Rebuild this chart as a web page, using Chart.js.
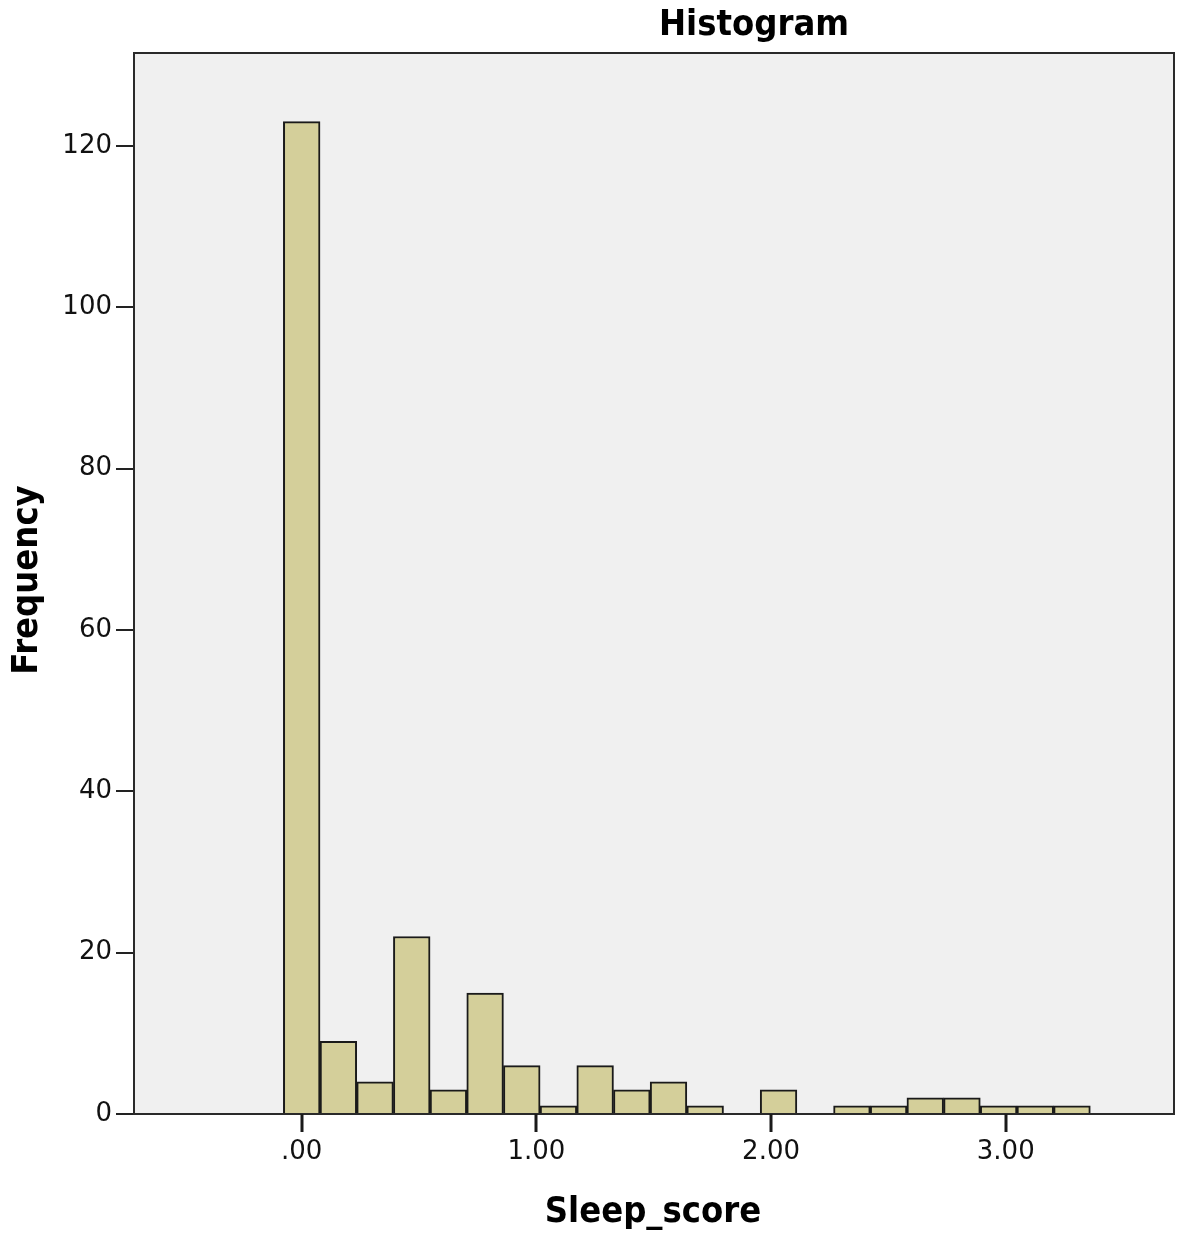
<!DOCTYPE html>
<html>
<head>
<meta charset="utf-8">
<script src="https://cdn.jsdelivr.net/npm/chart.js@4.4.0/dist/chart.umd.min.js"></script>
<style>
  html, body { margin: 0; padding: 0; background: #ffffff; }
  #wrap { width: 1180px; height: 1234px; position: relative; }
</style>
</head>
<body>
<div id="wrap"><canvas id="histChart"></canvas></div>
<script>
// --- дані гістограми ---
const binWidth = 0.1563;
const frequencies = [123, 9, 4, 22, 3, 15, 6, 1, 6, 3, 4, 1, 0, 3, 0, 1, 1, 2, 2, 1, 1, 1];
const xTickValues = [0, 1, 2, 3];
const xTickLabels = ['.00', '1.00', '2.00', '3.00'];
const yTickValues = [0, 20, 40, 60, 80, 100, 120];

const chartTitle = 'Histogram';
const xTitle = 'Sleep_score';
const yTitle = 'Frequency';

const points = frequencies.map((f, i) => ({ x: i * binWidth, y: f }));

const boldFont = 'bold 36px "DejaVu Sans Condensed", "DejaVu Sans", sans-serif';
const tickLen = 18;

// фон і рамка області графіка + підписи
const framePlugin = {
    id: 'frame',
    beforeDatasetsDraw(chart) {
        const { ctx, chartArea: a } = chart;
        ctx.save();
        ctx.fillStyle = '#f0f0f0';
        ctx.fillRect(a.left, a.top, a.right - a.left, a.bottom - a.top);
        ctx.restore();
    },
    afterDatasetsDraw(chart) {
        const { ctx, chartArea: a } = chart;
        ctx.save();
        ctx.strokeStyle = '#2a2a2a';
        ctx.lineWidth = 2;
        ctx.strokeRect(a.left, a.top, a.right - a.left, a.bottom - a.top);
        ctx.restore();
    },
    afterDraw(chart) {
        const { ctx, chartArea: a } = chart;
        ctx.save();
        // засічки осі X
        const xs = chart.scales.x;
        ctx.strokeStyle = '#1a1a1a';
        ctx.lineWidth = 3;
        xTickValues.forEach(v => {
            const px = Math.round(xs.getPixelForValue(v));
            ctx.fillStyle = '#1a1a1a';
            ctx.fillRect(px - 1.5, a.bottom, 3, tickLen);
        });
        ctx.fillStyle = '#000';
        ctx.font = boldFont;
        ctx.textAlign = 'center';
        ctx.textBaseline = 'alphabetic';
        ctx.fillText(chartTitle, 754, 35);
        ctx.fillText(xTitle, 653, 1222);
        ctx.translate(37, 580);
        ctx.rotate(-Math.PI / 2);
        ctx.fillText(yTitle, 0, 0);
        ctx.restore();
    }
};

new Chart(document.getElementById('histChart'), {
    type: 'bar',
    data: {
        datasets: [{
            label: yTitle,
            data: points,
            backgroundColor: '#d4cf9a',
            borderColor: '#1a1a1a',
            borderWidth: 2,
            barPercentage: 1,
            categoryPercentage: 1
        }]
    },
    options: {
        responsive: true,
        maintainAspectRatio: false,
        animation: false,
        layout: { padding: { top: 53, right: 6, left: 0, bottom: 0 } },
        plugins: {
            legend: { display: false },
            tooltip: { enabled: false },
            title: { display: false }
        },
        scales: {
            x: {
                type: 'linear',
                min: -0.7146,
                max: 3.717,
                offset: false,
                afterBuildTicks: (scale) => { scale.ticks = xTickValues.map(v => ({ value: v })); },
                afterFit: (scale) => { scale.height = 120; },
                border: { display: false },
                grid: { offset: false, drawOnChartArea: false, drawTicks: true, tickLength: tickLen, color: '#222', lineWidth: 2 },
                ticks: {
                    padding: 5,
                    color: '#111',
                    font: { family: '"DejaVu Sans", sans-serif', size: 26 },
                    maxRotation: 0,
                    callback: (v, i) => xTickLabels[i]
                }
            },
            y: {
                min: 0,
                max: 131.5,
                afterBuildTicks: (scale) => { scale.ticks = yTickValues.map(v => ({ value: v })); },
                afterFit: (scale) => { scale.width = 134; },
                border: { display: false },
                grid: { drawOnChartArea: false, drawTicks: true, tickLength: tickLen, color: '#222', lineWidth: 2 },
                ticks: {
                    padding: 4,
                    color: '#111',
                    font: { family: '"DejaVu Sans", sans-serif', size: 26 }
                }
            }
        }
    },
    plugins: [framePlugin]
});
</script>
</body>
</html>
